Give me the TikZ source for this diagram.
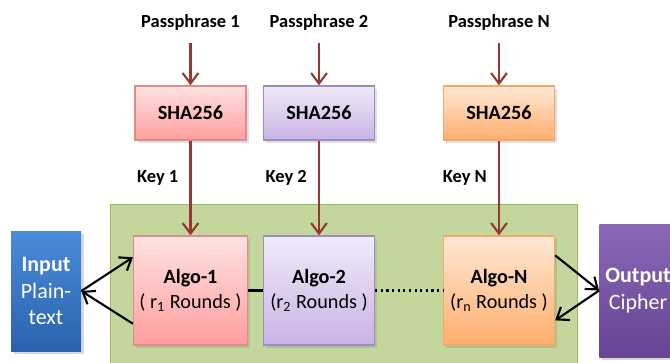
\documentclass[tikz,border=0pt]{standalone}
\usepackage{fontspec}
\setmainfont{Carlito}
\usepackage{tikz}
\usetikzlibrary{arrows.meta,positioning,shadows}

\definecolor{keyred}{HTML}{953735}
\definecolor{pinkdraw}{HTML}{E08C8C}
\definecolor{pinktop}{HTML}{FFE2E2}
\definecolor{pinkbot}{HTML}{FF9E9E}
\definecolor{lilacdraw}{HTML}{9E8BC4}
\definecolor{lilactop}{HTML}{F0EAF8}
\definecolor{lilacbot}{HTML}{C8B4E4}
\definecolor{peachdraw}{HTML}{F2A866}
\definecolor{peachtop}{HTML}{FFE8D6}
\definecolor{peachbot}{HTML}{FFAE6C}
\definecolor{greenfill}{HTML}{C3D69B}
\definecolor{greendraw}{HTML}{9BBB59}
\definecolor{bluetop}{HTML}{4A8CD8}
\definecolor{bluebot}{HTML}{2A62AC}
\definecolor{purpletop}{HTML}{8A68B8}
\definecolor{purplebot}{HTML}{664494}

\begin{document}
\begin{tikzpicture}[
    box/.style={rectangle, draw, thick, align=center, font=\fontsize{11.5}{14}\selectfont,
      drop shadow={opacity=0.25, shadow xshift=0.05cm, shadow yshift=-0.05cm}},
    shabox/.style={box, minimum width=2.22cm, minimum height=1.08cm, font=\fontsize{11.5}{14}\selectfont\bfseries},
    algobox/.style={box, minimum width=2.22cm, minimum height=2.18cm},
    pinkbox/.style={draw=pinkdraw, top color=pinktop, bottom color=pinkbot},
    lilacbox/.style={draw=lilacdraw, top color=lilactop, bottom color=lilacbot},
    peachbox/.style={draw=peachdraw, top color=peachtop, bottom color=peachbot},
    iobox/.style={rectangle, draw=none, text=white, align=center, font=\fontsize{12.5}{15}\selectfont,
      drop shadow={opacity=0.3, shadow xshift=0.05cm, shadow yshift=-0.05cm}},
    label/.style={text=black, font=\fontsize{10.5}{12}\selectfont\bfseries},
    keyarrow/.style={keyred, line width=1.2pt, -{Straight Barb[length=6pt, width=9pt]}},
    ioarrow/.style={black, line width=1.2pt, -{Straight Barb[length=6pt, width=9pt]}}
  ]
    \useasboundingbox (0,0) rectangle (13.4,7.24);
    \fill[greenfill, draw=greendraw] (2.2,-0.3) rectangle (11.54,3.16);

    \node[label] (pass1) at (3.81,6.8) {Passphrase 1};
    \node[label] (pass2) at (6.38,6.8) {Passphrase 2};
    \node[label] (passn) at (9.98,6.8) {Passphrase N};

    \node[shabox, pinkbox] (sha1) at (3.81,4.98) {SHA256};
    \node[shabox, lilacbox] (sha2) at (6.38,4.98) {SHA256};
    \node[shabox, peachbox] (shan) at (9.98,4.98) {SHA256};

    \node[algobox, pinkbox] (algo1) at (3.81,1.43) {\textbf{Algo-1}\\( r\textsubscript{1} Rounds )};
    \node[algobox, lilacbox] (algo2) at (6.38,1.43) {\textbf{Algo-2}\\(r\textsubscript{2} Rounds )};
    \node[algobox, peachbox] (algon) at (9.98,1.43) {\textbf{Algo-N}\\(r\textsubscript{n} Rounds )};

    \node[iobox, minimum width=1.4cm, minimum height=2.4cm,
      top color=bluetop, bottom color=bluebot] (input) at (0.92,1.42)
      {\textbf{Input}\\Plain-\\text};
    \node[iobox, minimum width=1.4cm, minimum height=2.66cm,
      top color=purpletop, bottom color=purplebot] (output) at (12.76,1.43)
      {\textbf{Output}\\Cipher};

    \draw[keyarrow, shorten <=4pt] (pass1) -- (sha1);
    \draw[keyarrow, shorten <=4pt] (pass2) -- (sha2);
    \draw[keyarrow, shorten <=4pt] (passn) -- (shan);
    \draw[keyarrow] (sha1) -- node[label, pos=0.39, left=3pt] {Key 1} (algo1);
    \draw[keyarrow] (sha2) -- node[label, pos=0.39, left=3pt] {Key 2} (algo2);
    \draw[keyarrow] (shan) -- node[label, pos=0.39, left=3pt] {Key N} (algon);

    \draw[black, line width=1.2pt] (algo1) -- (algo2);
    \draw[black, line width=1.2pt, dotted] (algo2) -- (algon);

    \draw[ioarrow] (input.east) -- (algo1.150);
    \draw[ioarrow] (algo1.210) -- (input.east);
    \draw[ioarrow] (algon.32) -- (output.west);
    \draw[ioarrow] (output.west) -- (algon.-28);
  \end{tikzpicture}
\end{document}
